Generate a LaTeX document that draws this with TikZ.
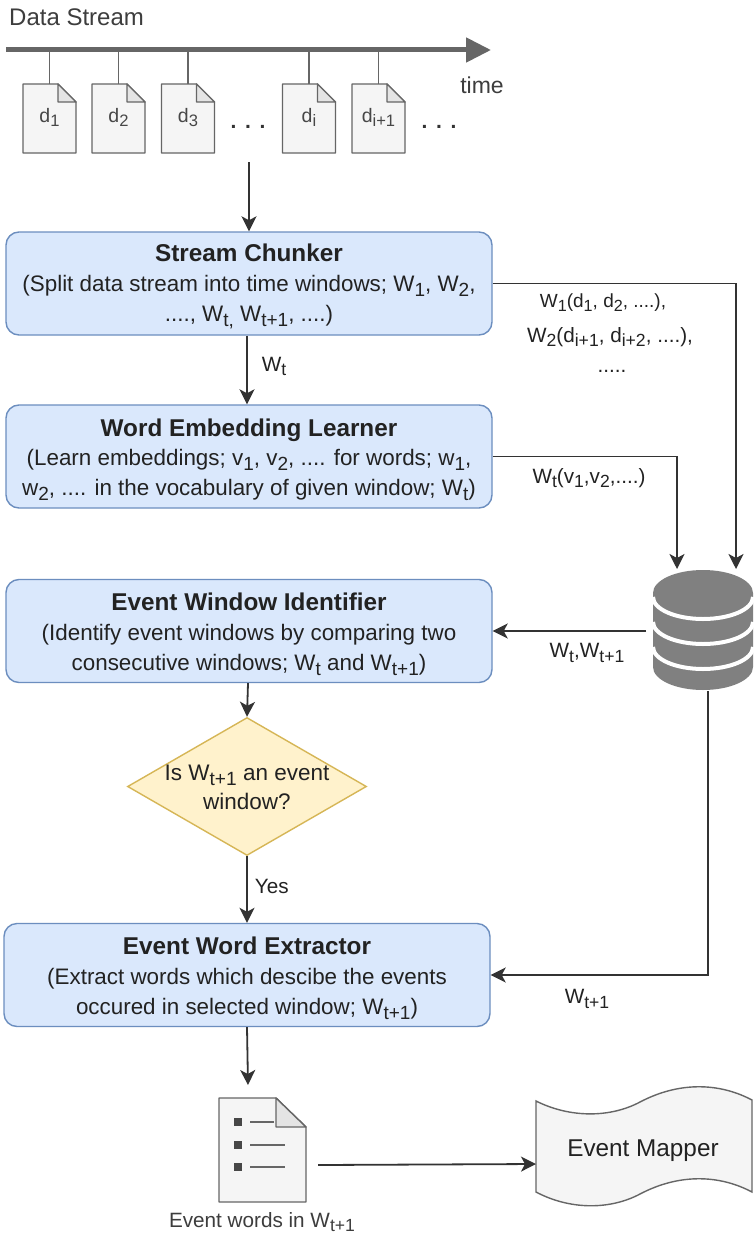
\documentclass[tikz,border=0pt]{standalone}
\usepackage{fontspec}
\setmainfont{Liberation Sans}
\usetikzlibrary{arrows.meta,calc,shapes.geometric}
\definecolor{boxfill}{HTML}{DAE8FC}
\definecolor{boxline}{HTML}{6C8EBF}
\definecolor{dfill}{HTML}{FFF2CC}
\definecolor{dline}{HTML}{D6B656}
\definecolor{docfill}{HTML}{F5F5F5}
\definecolor{docline}{HTML}{666666}
\definecolor{foldfill}{HTML}{E4E4E4}
\definecolor{ink}{HTML}{222222}
\definecolor{conn}{HTML}{333333}
\definecolor{dbgray}{HTML}{808080}
\newcommand\sbb[1]{\raisebox{-.42ex}{\scalebox{.85}{#1}}}
\newcommand\fs[1]{\fontsize{#1}{#1}\selectfont}
\newcommand\boxtitle[1]{\rule{0pt}{24pt}{\bfseries\fs{24.3}#1}}
\tikzset{
  x=1pt,y=-1pt,
  procbox/.style={draw=boxline,fill=boxfill,line width=1.4pt,rounded corners=13pt,minimum width=486pt,minimum height=103pt,align=center,text=ink,inner sep=0pt,font=\fs{22.4}},
  arr/.style={draw=conn,line width=1.8pt,-{Stealth[length=15pt,width=15pt,inset=4pt]}},
  lbl/.style={text=ink,inner sep=0pt,font=\fs{20.7},align=center},
  ghost/.style={inner sep=0pt,outer sep=0pt},
  stem/.style={draw=docline,line width=1.6pt},
  docbody/.style={draw=docline,fill=docfill,line width=1.4pt,line join=round},
  docfold/.style={draw=docline,fill=foldfill,line width=1.4pt,line join=round},
  dotrow/.style={text=conn,inner sep=0pt,font=\bfseries\fs{21}},
}
\newcommand\docsheet[4]{% name, centre x, fold, label
  \node[ghost,minimum width=53pt,minimum height=69pt] (#1) at (#2,118.5) {};
  \draw[docbody] (#1.north west) -- ($(#1.north east)+(-18,0)$) -- ($(#1.north east)+(0,18)$) -- (#1.south east) -- (#1.south west) -- cycle;
  \draw[docfold] ($(#1.north east)+(-18,0)$) -- ($(#1.north east)+(-18,18)$) -- ($(#1.north east)+(0,18)$) -- cycle;
  \node[text=docline!70!black,inner sep=0pt,font=\fs{19.5}] at ($(#1.center)+(0,-1)$) {#4};
  \draw[stem] (#1.north) -- ++(0,-34);
}
\begin{document}
\begin{tikzpicture}
\useasboundingbox (0,0) rectangle (753,1236);
\fill[white] (0,0) rectangle (753,1236);

\node[text=docline!60!black,anchor=west,inner sep=0pt,font=\fs{24}] (title) at (9,17) {Data Stream};
\coordinate (axisL) at (6,50);
\coordinate (axisR) at (491,50);
\docsheet{d1}{49.5}{18}{d\sbb{1}}
\docsheet{d2}{118.5}{18}{d\sbb{2}}
\docsheet{d3}{188}{18}{d\sbb{3}}
\docsheet{di}{309}{18}{d\sbb{i}}
\docsheet{dn}{378.5}{18}{d\sbb{i+1}}
\draw[docline,line width=5pt,-{Triangle[length=25pt,width=24pt]}] (axisL) -- (axisR);
\node[text=docline!60!black,inner sep=0pt,font=\fs{23}] (time) at (482,85) {time};
\node[dotrow] (dots1) at (248,127) {.\hspace{8.7pt}.\hspace{8.7pt}.};
\node[dotrow] (dots2) at (439,127) {.\hspace{8.7pt}.\hspace{8.7pt}.};

\node[procbox] (chunk) at (249,283.5) {\boxtitle{Stream Chunker}\\[7.5pt](Split data stream into time windows; W\sbb{1}, W\sbb{2},\\[7.5pt]...., W\sbb{t,} W\sbb{t+1}, ....)};
\node[procbox] (embed) at (249,456.5) {\boxtitle{Word Embedding Learner}\\[7.5pt](Learn embeddings; v\sbb{1}, v\sbb{2}, .... for words; w\sbb{1},\\[7.5pt]w\sbb{2}, .... in the vocabulary of given window; W\sbb{t})};
\node[procbox] (ident) at (249,631) {\boxtitle{Event Window Identifier}\\[7.5pt](Identify event windows by comparing two\\[7.5pt]consecutive windows; W\sbb{t} and W\sbb{t+1})};
\node[procbox] (extr) at (247,975) {\boxtitle{Event Word Extractor}\\[7.5pt](Extract words which descibe the events\\[7.5pt]occured in selected window; W\sbb{t+1})};

\node[diamond,draw=dline,fill=dfill,line width=1.4pt,minimum width=239pt,minimum height=138pt,shape aspect=1.73,inner sep=0pt] (dec) at (247,786.5) {};
\node[text=ink,inner sep=0pt,align=center,font=\fs{22.5}] at (247,787.5) {Is W\sbb{t+1} an event\\[7pt]window?};

% database
\node[ghost,minimum width=100pt,minimum height=121pt] (db) at (703,630) {};
\fill[dbgray] (653,593) arc[start angle=180,end angle=360,x radius=50,y radius=23] -- (753,667) arc[start angle=0,end angle=180,x radius=50,y radius=23] -- cycle;
\foreach \yy in {597,622,647}
  \draw[white,line width=4pt] (653,\yy) arc[start angle=180,end angle=0,x radius=50,y radius=22];

% list document
\node[ghost,minimum width=87pt,minimum height=104pt] (list) at (262.5,1150) {};
\draw[docbody] (list.north west) -- ($(list.north east)+(-30,0)$) -- ($(list.north east)+(0,29)$) -- (list.south east) -- (list.south west) -- cycle;
\draw[docfold] ($(list.north east)+(-30,0)$) -- ($(list.north east)+(-30,29)$) -- ($(list.north east)+(0,29)$) -- cycle;
\foreach \yy/\xe in {1122/274,1145/285,1167/285}{
  \fill[docline!70!black] (234,\yy-4) rectangle (242,\yy+4);
  \draw[docline,line width=1.3pt] (250,\yy) -- (\xe,\yy);
}
\node[text=docline!60!black,inner sep=0pt,font=\fs{20.7}] (listlbl) at (262,1222) {Event words in W\sbb{t+1}};

% event mapper
\draw[draw=docline,fill=docfill,line width=1.4pt] (536,1101) .. controls (570,1118) and (610,1118) .. (640,1102) .. controls (680,1081) and (720,1083) .. (752,1100) -- (752,1192) .. controls (720,1175) and (680,1173) .. (640,1194) .. controls (610,1210) and (570,1210) .. (536,1192) -- cycle;
\node[ghost,text=ink,font=\fs{24.3}] (map) at (643,1151) {Event Mapper};

% connectors
\coordinate (docsout) at (249,162);
\draw[arr] (docsout) -- (chunk.north);
\draw[arr] (chunk.south -| 247,0) -- node[lbl,right=14pt,pos=.45]{W\sbb{t}} (embed.north -| 247,0);
\draw[arr] (chunk.east) -- (736,282 |- chunk.east) -- (736,569);
\draw[arr] (embed.east) -- (677,456 |- embed.east) -- (677,569);
\coordinate (dbout) at (646,631);
\draw[arr] (dbout) -- (ident.east);
\coordinate (dbbottom) at (708,691);
\draw[arr] (dbbottom) |- (extr.east);
\draw[arr] (ident.south -| 248,0) -- (dec.north);
\draw[arr] (dec.south) -- node[lbl,right=7pt,pos=.45]{Yes} (extr.north -| 247,0);
\draw[arr] (extr.south -| 247,0) -- (248,1085);
\coordinate (listout) at (318,1165);
\draw[arr] (listout) -- (536,1164);

% free labels
\node[lbl,font=\fs{19}] (l1) at (603,303) {W\sbb{1}(d\sbb{1}, d\sbb{2}, ....),};
\node[lbl] (l2) at (610,337) {W\sbb{2}(d\sbb{i+1}, d\sbb{i+2}, ....),};
\node[lbl] (l3) at (612,371) {.....};
\node[lbl] (l4) at (589,478) {W\sbb{t}(v\sbb{1},v\sbb{2},....)};
\node[lbl] (l5) at (587,653) {W\sbb{t},W\sbb{t+1}};
\node[lbl] (l6) at (587,999) {W\sbb{t+1}};
\end{tikzpicture}
\end{document}
